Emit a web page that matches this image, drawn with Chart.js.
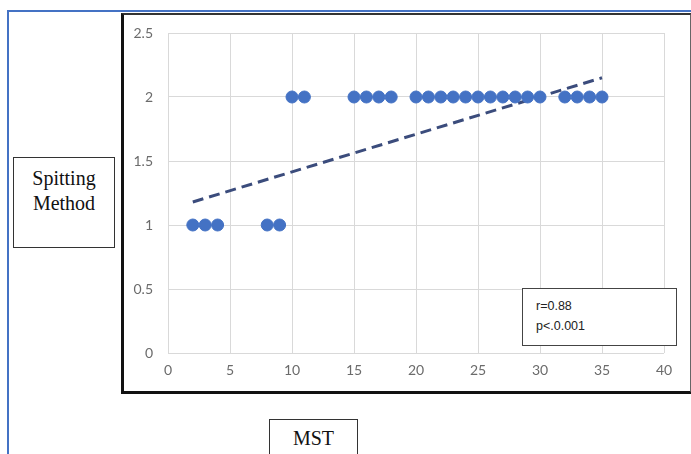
<!DOCTYPE html>
<html>
<head>
<meta charset="utf-8">
<script src="https://cdn.jsdelivr.net/npm/chart.js@4"></script>
<style>
  html, body { margin: 0; padding: 0; background: #fff; }
  #wrap { position: relative; width: 691px; height: 454px; overflow: hidden; background: #fff; }
  .abs { position: absolute; box-sizing: border-box; }
  #blueTop { left: 7px; top: 10px; width: 700px; height: 2px; background: #4472C4; }
  #blueLeft { left: 7px; top: 10px; width: 2px; height: 460px; background: #4472C4; }
  #frame { left: 121px; top: 13px; width: 571px; height: 381px; border-left: 3px solid #111; border-top: 2px solid #333; border-bottom: 3px solid #111; border-right: 2px solid #666; }
  #c { position: absolute; left: 0; top: 0; }
  .serifBox { border: 1px solid #333; background: #fff; font-family: "Liberation Serif", "DejaVu Serif", serif; font-size: 20px; color: #111; text-align: center; line-height: 25px; }
  #ylab { left: 13px; top: 157px; width: 102px; height: 91px; padding-top: 8px; }
  #xlab { left: 269px; top: 419px; width: 89px; height: 50px; padding-top: 6px; }
  #stats { left: 522px; top: 288px; width: 155px; height: 58px; border: 1px solid #444; background: #fff; font-family: "Liberation Sans", Arial, sans-serif; font-size: 12.5px; color: #222; padding: 7px 0 0 13px; line-height: 20px; }
</style>
</head>
<body>
<div id="wrap">
  <div class="abs" id="blueTop"></div>
  <div class="abs" id="blueLeft"></div>
  <div class="abs" id="frame"></div>
  <canvas id="c" width="691" height="454"></canvas>
  <div class="abs" id="stats">r=0.88<br>p&lt;.0.001</div>
  <div class="abs serifBox" id="ylab">Spitting<br>Method</div>
  <div class="abs serifBox" id="xlab">MST</div>
</div>
<script>
// Data
const mstValues = [2, 3, 4, 8, 9, 10, 11, 15, 16, 17, 18, 20, 21, 22, 23, 24, 25, 26, 27, 28, 29, 30, 32, 33, 34, 35];
const spittingValues = [1, 1, 1, 1, 1, 2, 2, 2, 2, 2, 2, 2, 2, 2, 2, 2, 2, 2, 2, 2, 2, 2, 2, 2, 2, 2];
const trendX = [2, 35];
const trendY = [1.18, 2.15];
const xTicks = [0, 5, 10, 15, 20, 25, 30, 35, 40];
const yTicks = [0, 0.5, 1, 1.5, 2, 2.5];

const pts = mstValues.map((x, i) => ({ x: x, y: spittingValues[i] }));
const trend = trendX.map((x, i) => ({ x: x, y: trendY[i] }));

const tickFont = { family: "Lato, 'Open Sans', sans-serif", size: 14 };

new Chart(document.getElementById('c'), {
  type: 'scatter',
  data: {
    datasets: [
      {
        label: 'Trend',
        type: 'line',
        data: trend,
        borderColor: '#3b4c7c',
        borderWidth: 3,
        borderDash: [11, 6],
        pointRadius: 0,
        fill: false,
        order: 2
      },
      {
        label: 'Spitting Method',
        data: pts,
        backgroundColor: '#4472C4',
        borderColor: '#4472C4',
        pointRadius: 6,
        pointHoverRadius: 6,
        order: 1
      }
    ]
  },
  options: {
    responsive: false,
    animation: false,
    layout: { padding: { left: 128, top: 33, right: 27, bottom: 71 } },
    plugins: { legend: { display: false }, tooltip: { enabled: false } },
    scales: {
      x: {
        type: 'linear',
        min: 0, max: 40,
        afterBuildTicks: (s) => { s.ticks = xTicks.map(v => ({ value: v })); },
        afterFit: (s) => { s.height = 30; },
        grid: { color: '#d9d9d9', lineWidth: 1, drawTicks: false },
        border: { display: false },
        ticks: { color: '#6b6b6b', font: tickFont, padding: 9, maxRotation: 0, callback: (v) => String(v) }
      },
      y: {
        type: 'linear',
        min: 0, max: 2.5,
        afterBuildTicks: (s) => { s.ticks = yTicks.map(v => ({ value: v })); },
        afterFit: (s) => { s.width = 40; },
        grid: { color: '#d9d9d9', lineWidth: 1, drawTicks: false },
        border: { display: false },
        ticks: { color: '#6b6b6b', font: tickFont, padding: 15, callback: (v) => String(v) }
      }
    }
  }
});
</script>
</body>
</html>
